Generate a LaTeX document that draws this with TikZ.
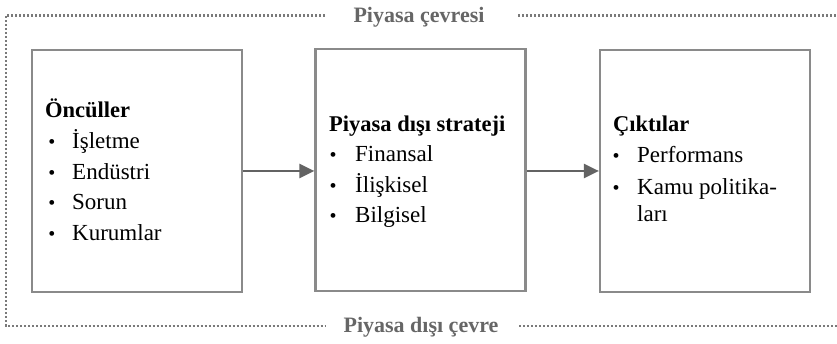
\documentclass[tikz,border=0pt]{standalone}
\usepackage{fontspec}
\setmainfont{Liberation Serif}
\usetikzlibrary{arrows.meta}
\definecolor{boxgray}{HTML}{8A8A8A}
\definecolor{arrowgray}{HTML}{636363}
\definecolor{labelgray}{HTML}{666666}
\definecolor{dotgray}{HTML}{7A7A7A}
\tikzset{
  stagebox/.style={draw=boxgray, line width=2.2pt, minimum width=210pt, minimum height=242pt, inner sep=0pt},
  flow/.style={draw=arrowgray, line width=2.6pt, -{Triangle[length=15pt,width=14pt]}},
  frame/.style={draw=dotgray, line width=2.1pt, dash pattern=on 2pt off 2pt},
  envlabel/.style={font=\fontsize{22}{24}\selectfont\bfseries, text=labelgray, inner sep=0pt, anchor=base},
  title/.style={font=\fontsize{22.5}{26}\selectfont\bfseries, inner sep=0pt, anchor=base west},
  item/.style={font=\fontsize{23}{26}\selectfont, inner sep=0pt, anchor=base west},
  bul/.style={font=\fontsize{20}{22}\selectfont, inner sep=0pt, anchor=base}
}
\begin{document}
\begin{tikzpicture}[x=1pt,y=-1pt]
\useasboundingbox (0,0) rectangle (837,344);
% boxes
\node[stagebox] (b1) at (137,171) {};
\node[stagebox] (b2) at (420.5,170) {};
\node[stagebox] (b3) at (705,171) {};
% arrows
\draw[flow] (b1.east |- 0,171) -- (b2.west |- 0,171);
\draw[flow] (b2.east |- 0,171) -- (b3.west |- 0,171);
% box 1
\node[title] (t1) at (45,118) {Öncüller};
\node[bul] (u11) at (52,149) {•}; \node[item] (i11) at (72,149) {İşletme};
\node[bul] (u12) at (52,179.5) {•}; \node[item] (i12) at (72,179.5) {Endüstri};
\node[bul] (u13) at (52,210) {•}; \node[item] (i13) at (72,210) {Sorun};
\node[bul] (u14) at (52,240.5) {•}; \node[item] (i14) at (72,240.5) {Kurumlar};
% box 2
\node[title] (t2) at (329,132) {Piyasa dışı strateji};
\node[bul] (u21) at (333,162) {•}; \node[item] (i21) at (355,162) {Finansal};
\node[bul] (u22) at (333,193) {•}; \node[item] (i22) at (355,193) {İlişkisel};
\node[bul] (u23) at (333,223) {•}; \node[item] (i23) at (355,223) {Bilgisel};
% box 3
\node[title] (t3) at (613,132) {Çıktılar};
\node[bul] (u31) at (616,163) {•}; \node[item] (i31) at (637,163) {Performans};
\node[bul] (u32) at (616,195) {•}; \node[item] (i32) at (637,195) {Kamu politika-};
\node[item] (i33) at (637,222) {ları};
% environment labels and dotted frame
\node[envlabel] (top) at (419,22.7) {Piyasa çevresi};
\node[envlabel] (bot) at (421,332) {Piyasa dışı çevre};
\coordinate (tl) at (6,15.5);
\coordinate (bl) at (6,326);
\coordinate (tr) at (837,15.5);
\coordinate (br) at (837,326);
\coordinate (tle) at (325,15.5);
\coordinate (trs) at (518,15.5);
\coordinate (ble) at (325,326);
\coordinate (brs) at (519,326);
\draw[frame] (tle) -- (tl) -- (bl) -- (ble);
\draw[frame] (trs) -- (tr);
\draw[frame] (brs) -- (br);
\end{tikzpicture}
\end{document}
